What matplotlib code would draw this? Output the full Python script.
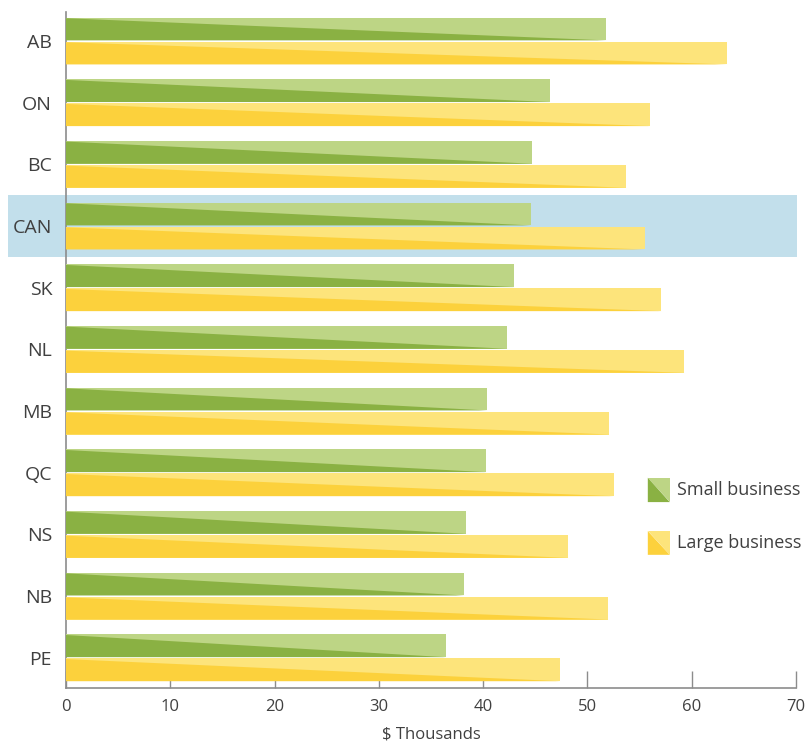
import matplotlib.pyplot as plt
import matplotlib.transforms as mtransforms
from matplotlib.patches import Rectangle, Polygon

plt.rcParams['font.family'] = ['Open Sans', 'DejaVu Sans']

regions = ["AB", "ON", "BC", "CAN", "SK", "NL", "MB", "QC", "NS", "NB", "PE"]
small_biz = [51.8, 46.4, 44.7, 44.6, 43.0, 42.3, 40.4, 40.3, 38.4, 38.2, 36.4]
large_biz = [63.4, 56.0, 53.7, 55.5, 57.1, 59.3, 52.1, 52.5, 48.1, 52.0, 47.4]
x_ticks = [0, 10, 20, 30, 40, 50, 60, 70]

GREEN_DARK, GREEN_LIGHT = "#8ab143", "#bdd585"
YELLOW_DARK, YELLOW_LIGHT = "#fcd13c", "#fde47b"
HIGHLIGHT = "#c2dfeb"
TEXT = "#404040"
AXIS = "#8c8c8c"

fig = plt.figure(figsize=(8.07, 7.44), dpi=100)
ax = fig.add_axes([66 / 807, 56 / 744, 730 / 807, 676 / 744])

BAR_H = 0.37


def split_bar(ax, y0, value, h, dark, light):
    # y0 = visual top of the bar (y axis inverted)
    top, bot = y0, y0 + h
    ax.add_patch(Polygon([(0, top), (value, top), (value, bot), (0, bot)],
                         closed=True, facecolor=light, edgecolor="none", zorder=3))
    ax.add_patch(Polygon([(0, top + 0.03 * h), (value, bot), (0, bot)],
                         closed=True, facecolor=dark, edgecolor="none", zorder=3.2))


for i, (s, l) in enumerate(zip(small_biz, large_biz)):
    split_bar(ax, i - BAR_H - 0.01, s, BAR_H, GREEN_DARK, GREEN_LIGHT)
    split_bar(ax, i + 0.01, l, BAR_H, YELLOW_DARK, YELLOW_LIGHT)

# highlight the Canada row
can_idx = regions.index("CAN")
trans = mtransforms.blended_transform_factory(ax.transAxes, ax.transData)
ax.add_patch(Rectangle((-0.079, can_idx - 0.5), 1.08, 1.0, transform=trans,
                       facecolor=HIGHLIGHT, edgecolor="none", clip_on=False, zorder=0))

ax.set_xlim(0, 70)
ax.set_ylim(10.49, -0.47)
ax.set_xticks(x_ticks)
ax.set_xticklabels([str(t) for t in x_ticks], fontsize=12, color=TEXT)
ax.set_yticks(range(len(regions)))
ax.set_yticklabels(regions, fontsize=14, color=TEXT)
ax.tick_params(axis="y", length=0, pad=10)
ax.tick_params(axis="x", direction="in", length=12, width=1, color=AXIS, pad=8)
ax.set_xlabel("\\$ Thousands", fontsize=12, color=TEXT, labelpad=8)

for side in ["top", "right"]:
    ax.spines[side].set_visible(False)
for side in ["left", "bottom"]:
    ax.spines[side].set_color(AXIS)
    ax.spines[side].set_linewidth(1.2)

# legend with split swatches
legend_items = [("Small business", GREEN_DARK, GREEN_LIGHT, 0.275, 0.311),
                ("Large business", YELLOW_DARK, YELLOW_LIGHT, 0.197, 0.232)]
for label, dark, light, y_lo, y_hi in legend_items:
    x_lo, x_hi = 0.797, 0.827
    ax.add_patch(Polygon([(x_lo, y_hi), (x_hi, y_hi), (x_hi, y_lo)], closed=True,
                         transform=ax.transAxes, facecolor=light, edgecolor="none", zorder=4))
    ax.add_patch(Polygon([(x_lo, y_hi), (x_hi, y_lo), (x_lo, y_lo)], closed=True,
                         transform=ax.transAxes, facecolor=dark, edgecolor="none", zorder=4))
    ax.text(0.837, (y_lo + y_hi) / 2, label, transform=ax.transAxes, fontsize=13,
            color=TEXT, va="center", ha="left")

fig.savefig("out.png", dpi=100)
